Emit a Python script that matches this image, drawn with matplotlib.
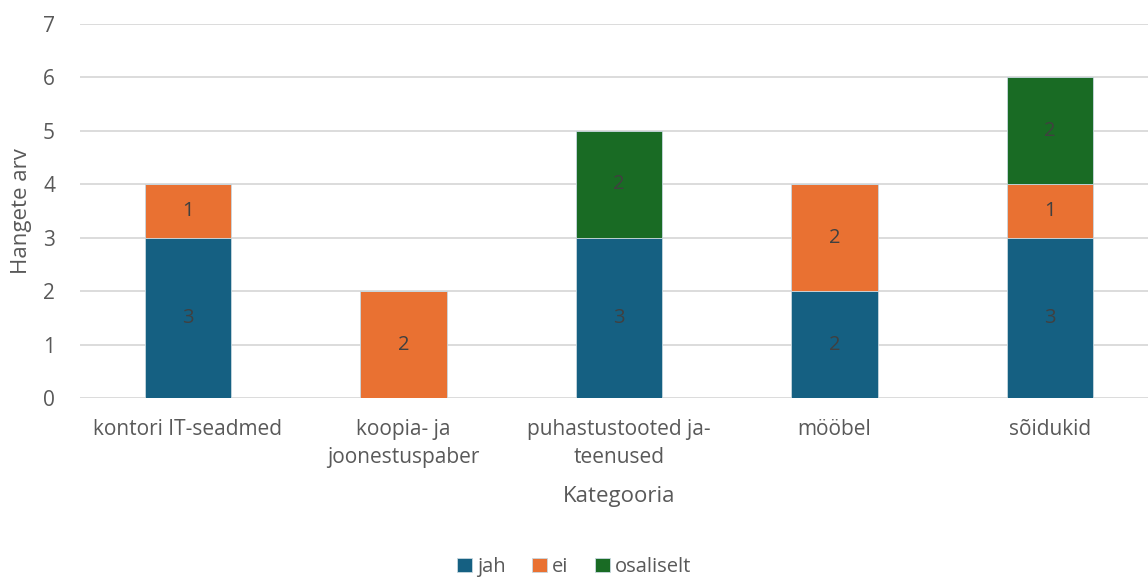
import matplotlib
matplotlib.use("Agg")
import matplotlib.pyplot as plt
import numpy as np

categories = ["kontori IT-seadmed", "koopia- ja\njoonestuspaber", "puhastustooted ja-\nteenused", "mööbel", "sõidukid"]
jah = [3, 0, 3, 2, 3]
ei = [1, 2, 0, 2, 1]
osaliselt = [0, 0, 2, 0, 2]
series = [("jah", jah, "#156082"), ("ei", ei, "#E97132"), ("osaliselt", osaliselt, "#196B24")]

plt.rcParams['font.family'] = ['Open Sans', 'DejaVu Sans']
fig = plt.figure(figsize=(11.48, 5.79), dpi=100)
ax = fig.add_axes([80/1148, 1-398/579, 1078/1148, (398-24)/579])

x = np.arange(len(categories))
bottom = np.zeros(len(categories))
for name, vals, col in series:
    vals = np.array(vals, dtype=float)
    ax.bar(x, vals, 0.4, bottom=bottom, color=col, label=name,
           edgecolor="#c8d8e0", linewidth=0.6, zorder=3)
    for xi, b, v in zip(x, bottom, vals):
        if v > 0:
            ax.text(xi, b + v/2, f"{int(v)}", ha="center", va="center",
                    fontsize=14.5, color="#404040", zorder=4)
    bottom += vals

ax.set_xlim(-0.5, len(categories) - 0.5)
ax.set_ylim(0, 7)
ax.set_yticks(range(0, 8))
ax.yaxis.grid(True, color="#D9D9D9", linewidth=1.3, zorder=0)
ax.set_axisbelow(True)
for s in ax.spines.values():
    s.set_visible(False)
ax.tick_params(axis="both", length=0, labelsize=15, colors="#595959")
ax.tick_params(axis="y", pad=18)
ax.tick_params(axis="x", pad=15)
ax.set_xticks(x)
ax.set_xticklabels(categories, linespacing=1.45)
ax.set_ylabel("Hangete arv", fontsize=16, color="#595959", labelpad=8)
ax.set_xlabel("Kategooria", fontsize=16, color="#595959", labelpad=13)

fig.legend(loc="center", bbox_to_anchor=(0.5, 1-567/579), ncol=3, frameon=False,
           fontsize=14.5, handlelength=0.75, handleheight=0.75, handletextpad=0.25,
           columnspacing=1.3, labelcolor="#595959")
fig.savefig("out.png", dpi=100)
